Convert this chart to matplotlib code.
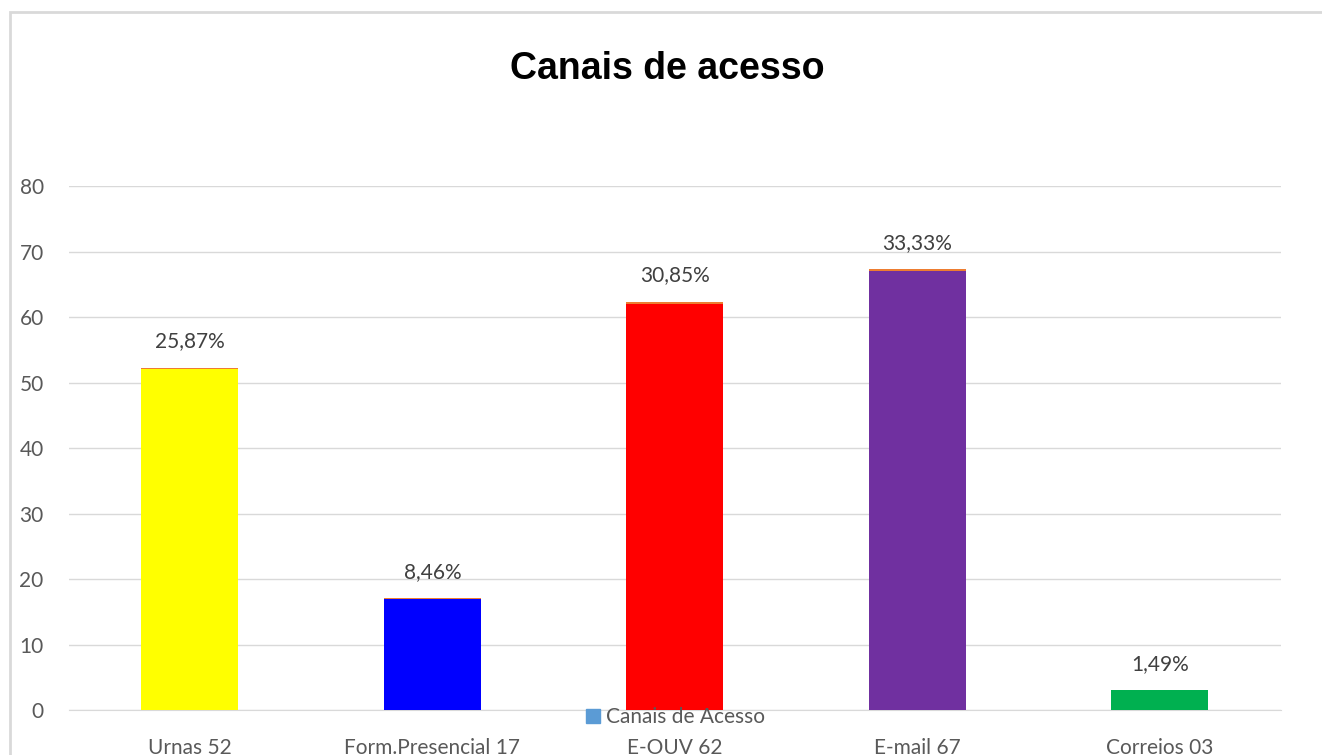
import numpy as np
import matplotlib.pyplot as plt
from matplotlib.patches import Rectangle, Patch

plt.rcParams['font.family'] = ['Lato', 'DejaVu Sans']

#%% data
categorias = ['Urnas 52', 'Form.Presencial 17', 'E-OUV 62', 'E-mail 67', 'Correios 03']
quantidade = [52, 17, 62, 67, 3]
percentual = [25.87, 8.46, 30.85, 33.33, 1.49]
cores = ['#FFFF00', '#0000FF', '#FF0000', '#7030A0', '#00B050']
rotulos = ['25,87%', '8,46%', '30,85%', '33,33%', '1,49%']

#%% plot
fig = plt.figure(figsize=(13.22, 7.55), dpi=100)
ax = fig.add_axes([0.052, 0.0596, 0.917, 0.694])

x = np.arange(len(categorias))
ax.bar(x, quantidade, width=0.4, color=cores, zorder=3)
frac = np.array(percentual) / 100
ax.bar(x, frac, width=0.4, bottom=quantidade, color='#ED7D31', zorder=3)

for xi, q, f, txt in zip(x, quantidade, frac, rotulos):
    ax.annotate(txt, (xi, q + f), xytext=(0, 19), textcoords='offset points',
                ha='center', va='center', fontsize=15, color='#404040')

ax.set_xlim(-0.5, len(categorias) - 0.5)
ax.set_ylim(0, 80)
ax.set_yticks(range(0, 81, 10))
ax.set_xticks(x)
ax.set_xticklabels(categorias)
ax.tick_params(axis='both', length=0, labelsize=15, labelcolor='#595959')
ax.tick_params(axis='y', pad=18)
ax.tick_params(axis='x', pad=20)
ax.grid(axis='y', color='#D9D9D9', linewidth=1, zorder=0)
for s in ['top', 'right', 'left']:
    ax.spines[s].set_visible(False)
ax.spines['bottom'].set_color('#D9D9D9')

fig.text(0.505, 0.908, 'Canais de acesso', ha='center', va='center',
         fontsize=27, fontweight='bold', family=['Liberation Sans Narrow', 'Liberation Sans'])

fig.legend(handles=[Patch(color='#5B9BD5')], labels=['Canais de Acesso'],
           loc='center', bbox_to_anchor=(0.511, 0.05), frameon=False,
           fontsize=15, labelcolor='#595959', handlelength=0.7, handleheight=0.7,
           handletextpad=0.3)

# chart border
fig.patches.append(Rectangle((10 / 1322, -0.1), 1.2, 1.1 - 12 / 755,
                             transform=fig.transFigure, fill=False,
                             edgecolor='#D9D9D9', linewidth=2))

fig.savefig('out.png')
